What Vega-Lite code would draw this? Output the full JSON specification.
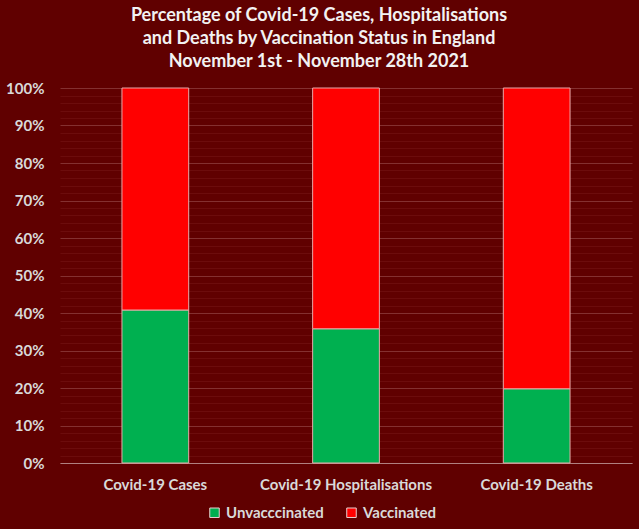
{
  "$schema": "https://vega.github.io/schema/vega-lite/v6.json",
  "autosize": "none",
  "width": 572,
  "height": 375,
  "padding": {"left": 60, "top": 88, "right": 7, "bottom": 66},
  "background": "#600000",
  "title": {
    "text": ["Percentage of Covid-19 Cases, Hospitalisations", "and Deaths by Vaccination Status in England", "November 1st - November 28th 2021"],
    "font": "Lato",
    "fontSize": 18,
    "fontWeight": "bold",
    "color": "#f2f2f2",
    "lineHeight": 23,
    "anchor": "middle",
    "dx": -27,
    "offset": 10
  },
  "data": {
    "values": [
      {"measure": "Covid-19 Cases", "status": "Unvacccinated", "share": 0.408},
      {"measure": "Covid-19 Cases", "status": "Vaccinated", "share": 0.592},
      {"measure": "Covid-19 Hospitalisations", "status": "Unvacccinated", "share": 0.358},
      {"measure": "Covid-19 Hospitalisations", "status": "Vaccinated", "share": 0.642},
      {"measure": "Covid-19 Deaths", "status": "Unvacccinated", "share": 0.198},
      {"measure": "Covid-19 Deaths", "status": "Vaccinated", "share": 0.802}
    ]
  },
  "mark": {"type": "bar", "stroke": "#e9a9a9", "strokeWidth": 1},
  "encoding": {
    "x": {
      "field": "measure",
      "type": "nominal",
      "sort": ["Covid-19 Cases", "Covid-19 Hospitalisations", "Covid-19 Deaths"],
      "scale": {"paddingInner": 0.65, "paddingOuter": 0.325},
      "axis": {
        "title": null,
        "labelAngle": 0,
        "labelPadding": 14,
        "ticks": false,
        "domain": true,
        "domainColor": "#b08080",
        "grid": false
      }
    },
    "y": {
      "field": "share",
      "type": "quantitative",
      "stack": "zero",
      "scale": {"domain": [0, 1], "nice": false},
      "axis": {
        "title": null,
        "values": [0, 0.02, 0.04, 0.06, 0.08, 0.1, 0.12, 0.14, 0.16, 0.18, 0.2, 0.22, 0.24, 0.26, 0.28, 0.3, 0.32, 0.34, 0.36, 0.38, 0.4, 0.42, 0.44, 0.46, 0.48, 0.5, 0.52, 0.54, 0.56, 0.58, 0.6, 0.62, 0.64, 0.66, 0.68, 0.7, 0.72, 0.74, 0.76, 0.78, 0.8, 0.82, 0.84, 0.86, 0.88, 0.9, 0.92, 0.94, 0.96, 0.98, 1],
        "labelExpr": "abs(round(datum.value * 100) % 10) < 0.5 ? format(datum.value, '.0%') : ''",
        "labelPadding": 16,
        "ticks": false,
        "domain": false,
        "grid": true,
        "gridColor": {"condition": {"test": "abs(round(datum.value * 100) % 10) < 0.5", "value": "#843030"}, "value": "#6c0c0c"},
        "gridWidth": 1
      }
    },
    "order": {"field": "status", "sort": "ascending"},
    "color": {
      "field": "status",
      "type": "nominal",
      "scale": {"domain": ["Unvacccinated", "Vaccinated"], "range": ["#00b050", "#ff0000"]},
      "legend": {
        "title": null,
        "orient": "none",
        "direction": "horizontal",
        "legendX": 147,
        "legendY": 417,
        "symbolType": "square",
        "symbolSize": 90,
        "symbolStrokeColor": "#e9d0d0",
        "symbolStrokeWidth": 1,
        "columnPadding": 20,
        "labelOffset": 4
      }
    }
  },
  "config": {
    "view": {"stroke": null},
    "axis": {
      "labelFont": "Lato",
      "labelFontSize": 15,
      "labelFontWeight": "bold",
      "labelColor": "#d9d9d9"
    },
    "legend": {
      "labelFont": "Lato",
      "labelFontSize": 15,
      "labelFontWeight": "bold",
      "labelColor": "#d9d9d9"
    }
  }
}
